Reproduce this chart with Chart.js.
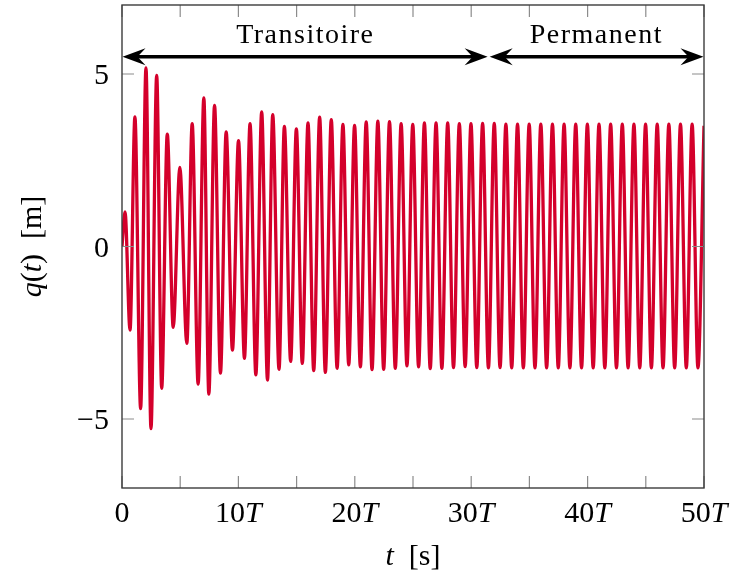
<!DOCTYPE html>
<html>
<head>
<meta charset="utf-8">
<script src="https://cdn.jsdelivr.net/npm/chart.js@4"></script>
<style>
  html, body { margin: 0; padding: 0; background: #fff; }
  canvas { display: block; }
</style>
</head>
<body>
<canvas id="qChart" width="731" height="581"></canvas>
<script>
// Réponse q(t) : instants (en T) et valeurs relevés aux extrema de la courbe
const tValues = [
    0, 0.26, 0.69, 1.11, 1.6, 2.06, 2.49, 2.98, 3.41, 3.89,
    4.4, 4.97, 5.57, 6.03, 6.54, 7.03, 7.46, 7.95, 8.46, 8.95,
    9.49, 10.01, 10.52, 11, 11.5, 12, 12.5, 12.95, 13.49, 13.95,
    14.49, 14.98, 15.49, 15.98, 16.47, 16.98, 17.47, 17.98, 18.48, 18.98,
    19.48, 19.98, 20.48, 20.98, 21.48, 21.98, 22.48, 22.98, 23.48, 23.98,
    24.48, 24.98, 25.48, 25.98, 26.48, 26.98, 27.48, 27.98, 28.48, 28.98,
    29.48, 29.98, 30.48, 30.98, 31.48, 31.98, 32.48, 32.98, 33.48, 33.98,
    34.48, 34.98, 35.48, 35.98, 36.48, 36.98, 37.48, 37.98, 38.48, 38.98,
    39.48, 39.98, 40.48, 40.98, 41.48, 41.98, 42.48, 42.98, 43.48, 43.98,
    44.48, 44.98, 45.48, 45.98, 46.48, 46.98, 47.48, 47.98, 48.48, 48.98,
    49.48, 50
];
const qValues = [
    0, 1.0, -2.42, 3.76, -4.70, 5.18, -5.28, 4.96, -4.11, 3.26,
    -2.34, 2.29, -2.81, 3.56, -3.99, 4.31, -4.28, 4.09, -3.67, 3.32,
    -3.0, 3.07, -3.24, 3.56, -3.72, 3.9, -3.87, 3.82, -3.56, 3.48,
    -3.33, 3.41, -3.39, 3.58, -3.6, 3.75, -3.65, 3.68, -3.53, 3.54,
    -3.43, 3.51, -3.49, 3.61, -3.57, 3.63, -3.56, 3.62, -3.53, 3.56,
    -3.46, 3.54, -3.49, 3.58, -3.54, 3.58, -3.53, 3.58, -3.51, 3.56,
    -3.48, 3.56, -3.51, 3.57, -3.52, 3.57, -3.51, 3.55, -3.52, 3.55,
    -3.52, 3.55, -3.52, 3.55, -3.52, 3.55, -3.52, 3.55, -3.52, 3.55,
    -3.52, 3.55, -3.52, 3.55, -3.52, 3.55, -3.52, 3.55, -3.52, 3.55,
    -3.52, 3.55, -3.52, 3.55, -3.52, 3.55, -3.52, 3.55, -3.52, 3.55,
    -3.52, 3.5
];

// graduations
const xTicks = [0, 5, 10, 15, 20, 25, 30, 35, 40, 45, 50];
const xLabels = [0, 10, 20, 30, 40, 50];
const yTicks = [-5, 0, 5];

// régimes annotés
const tSwitch = 31.5;
const arrowLevel = 5.5;

const FONT = '"Liberation Serif", "Times New Roman", serif';
const SIZE = 28;
const TICK_SIZE = 30;

// texte avec morceaux en italique : parts = [[texte, italique], ...]
function mixedText(ctx, parts, x, y, size) {
    const setFont = it => { ctx.font = (it ? 'italic ' : '') + size + 'px ' + FONT; };
    const widths = parts.map(p => { setFont(p[1]); return ctx.measureText(p[0]).width; });
    const total = widths.reduce((s, w) => s + w, 0);
    let cx = x - total / 2;
    ctx.textAlign = 'left';
    parts.forEach((p, i) => {
        setFont(p[1]);
        ctx.fillText(p[0], cx, y);
        cx += widths[i];
    });
}

function arrowHead(ctx, tx, ty, dir) {
    ctx.beginPath();
    ctx.moveTo(tx, ty);
    ctx.lineTo(tx - dir * 23, ty - 8.5);
    ctx.lineTo(tx - dir * 15, ty);
    ctx.lineTo(tx - dir * 23, ty + 8.5);
    ctx.closePath();
    ctx.fill();
}

function doubleArrow(ctx, x1, x2, y) {
    ctx.lineWidth = 3.3;
    ctx.beginPath();
    ctx.moveTo(x1 + 14, y);
    ctx.lineTo(x2 - 14, y);
    ctx.stroke();
    arrowHead(ctx, x1, y, -1);
    arrowHead(ctx, x2, y, 1);
}

const decor = {
    id: 'decor',
    afterDraw(chart) {
        const { ctx, chartArea: a, scales: { x, y } } = chart;
        ctx.save();

        // petites graduations vers l'intérieur
        ctx.strokeStyle = '#8c8c8c';
        ctx.lineWidth = 1.2;
        ctx.beginPath();
        xTicks.forEach(v => {
            const px = x.getPixelForValue(v);
            ctx.moveTo(px, a.bottom); ctx.lineTo(px, a.bottom - 12);
            ctx.moveTo(px, a.top); ctx.lineTo(px, a.top + 12);
        });
        yTicks.forEach(v => {
            const py = y.getPixelForValue(v);
            ctx.moveTo(a.left, py); ctx.lineTo(a.left + 12, py);
            ctx.moveTo(a.right, py); ctx.lineTo(a.right - 12, py);
        });
        ctx.stroke();

        // cadre
        ctx.strokeStyle = '#3c3c3c';
        ctx.lineWidth = 1.4;
        ctx.strokeRect(a.left, a.top, a.right - a.left, a.bottom - a.top);

        ctx.fillStyle = '#000';
        ctx.textBaseline = 'alphabetic';

        // étiquettes de l'axe t
        xLabels.forEach(v => {
            const px = x.getPixelForValue(v);
            const parts = v === 0 ? [['0', false]] : [[String(v), false], ['T', true]];
            mixedText(ctx, parts, px, a.bottom + 34, TICK_SIZE);
        });

        // étiquettes de l'axe q
        ctx.font = TICK_SIZE + 'px ' + FONT;
        ctx.textAlign = 'right';
        yTicks.forEach(v => {
            const py = y.getPixelForValue(v);
            ctx.fillText(v < 0 ? '\u2212' + Math.abs(v) : String(v), a.left - 13, py + 10);
        });

        // titres des axes
        mixedText(ctx, [['t', true], ['  [s]', false]], 413, 565, TICK_SIZE);
        ctx.save();
        ctx.translate(41, (a.top + a.bottom) / 2);
        ctx.rotate(-Math.PI / 2);
        mixedText(ctx, [['q', true], ['(', false], ['t', true], [')  [m]', false]], 0, 0, TICK_SIZE);
        ctx.restore();

        // flèches des régimes
        const ya = y.getPixelForValue(arrowLevel);
        const x0 = x.getPixelForValue(0);
        const xs = x.getPixelForValue(tSwitch);
        const x1 = x.getPixelForValue(50);
        ctx.strokeStyle = '#000';
        ctx.fillStyle = '#000';
        doubleArrow(ctx, x0 + 0.5, xs - 1, ya);
        doubleArrow(ctx, xs + 1, x1 - 0.5, ya);

        ctx.font = SIZE + 'px ' + FONT;
        ctx.textAlign = 'center';
        ctx.letterSpacing = '1.5px';
        ctx.fillText('Transitoire', (x0 + xs) / 2, ya - 14);
        ctx.fillText('Permanent', (xs + x1) / 2, ya - 14);

        ctx.restore();
    }
};

const points = tValues.map((t, i) => ({ x: t, y: qValues[i] }));

const qChart = new Chart(document.getElementById('qChart'), {
    type: 'line',
    data: {
        datasets: [{
            data: points,
            borderColor: '#d4002b',
            borderWidth: 3.3,
            pointRadius: 0,
            cubicInterpolationMode: 'monotone',
            fill: false,
        }]
    },
    options: {
        responsive: false,
        animation: false,
        layout: { padding: { left: 122, right: 27, top: 5, bottom: 93 } },
        plugins: {
            legend: { display: false },
            tooltip: { enabled: false },
        },
        scales: {
            x: { type: 'linear', min: 0, max: 50, display: false },
            y: { min: -7, max: 7, display: false },
        },
    },
    plugins: [decor],
});
</script>
</body>
</html>
